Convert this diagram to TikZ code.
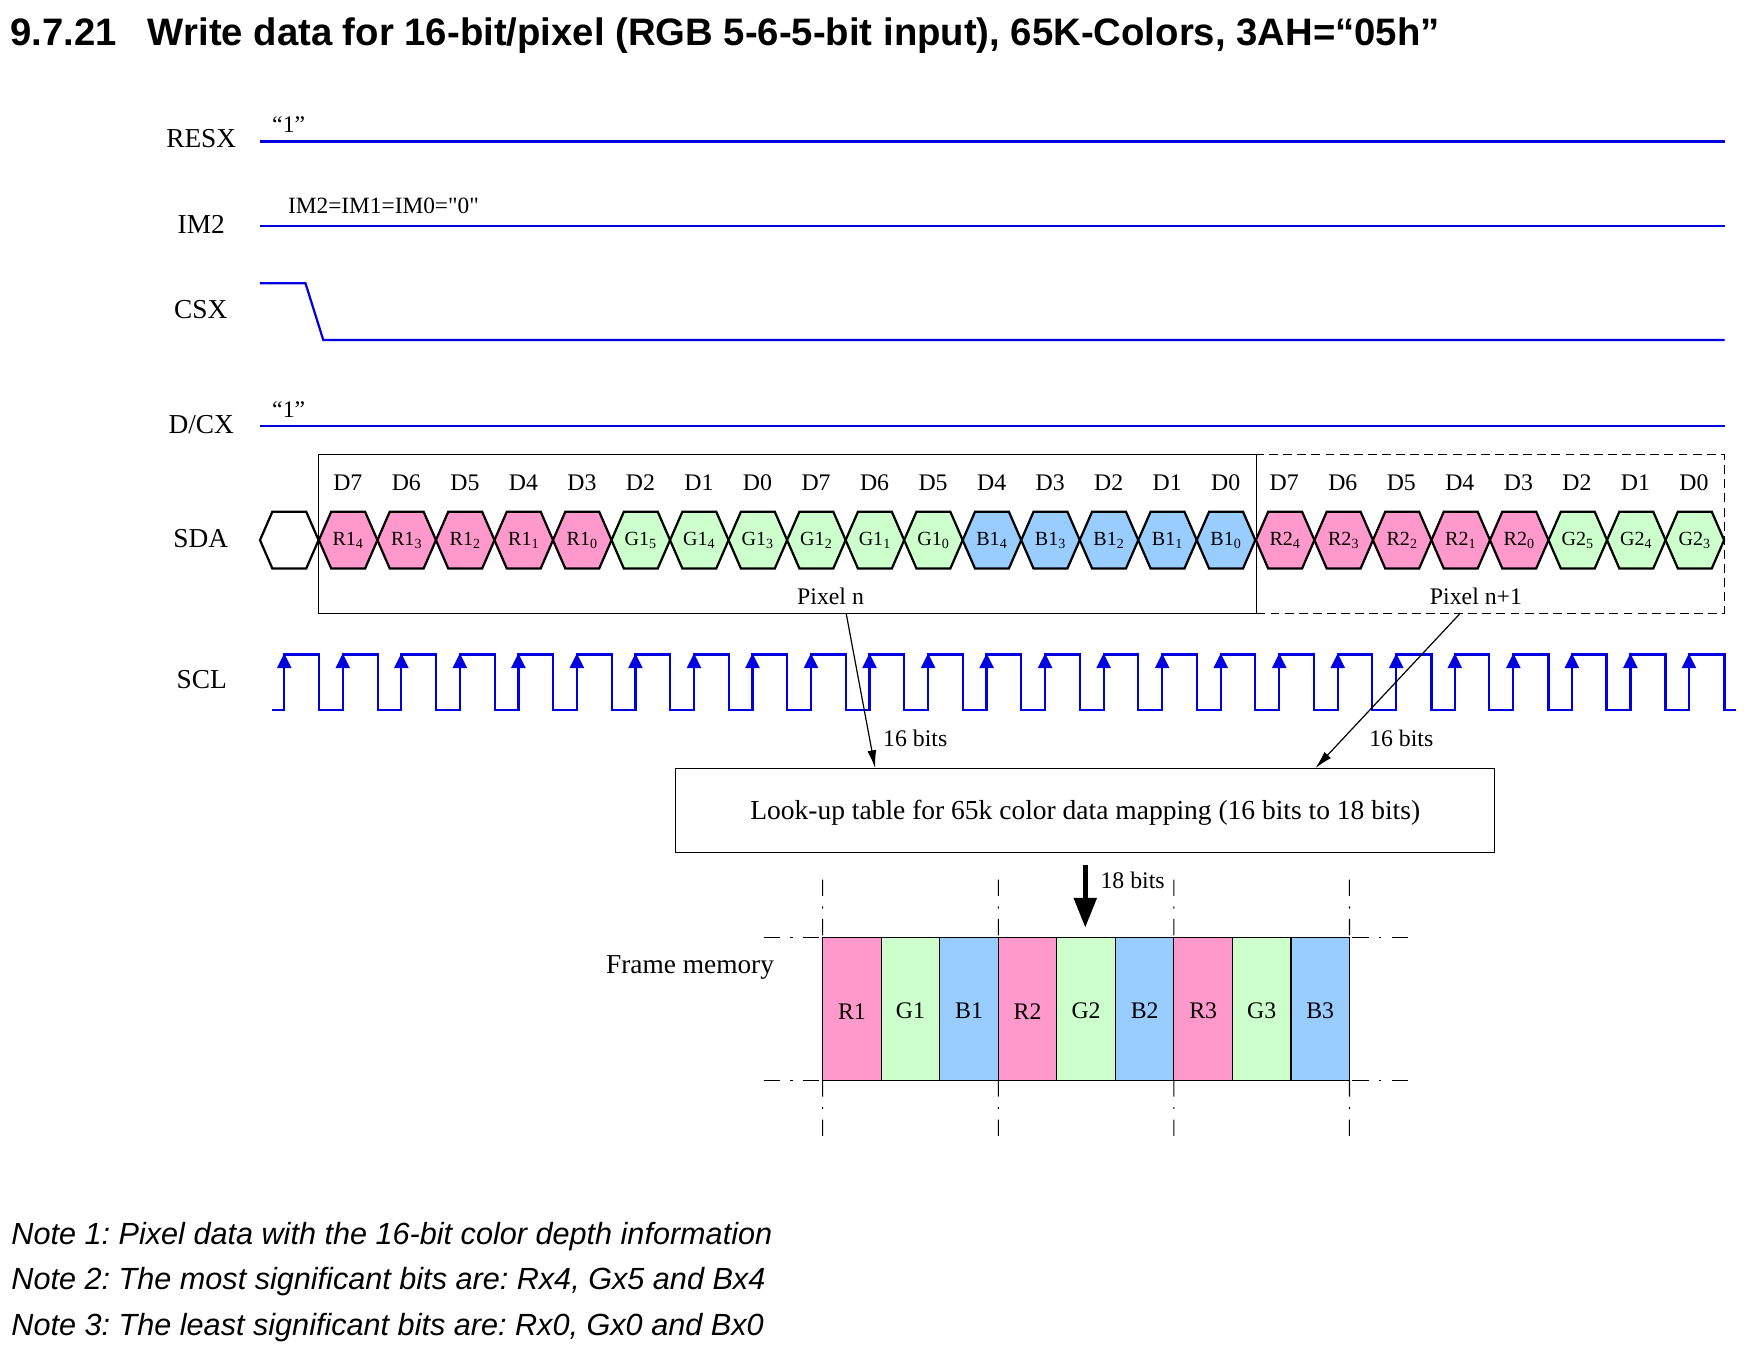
\documentclass[tikz,border=0pt]{standalone}
\usepackage{fontspec}
\usepackage{xcolor}
\usetikzlibrary{arrows.meta,shapes.symbols}
\setmainfont{Liberation Serif}
\newfontfamily\headfont{Liberation Sans}
\newfontfamily\rawserif{Liberation Serif}
\definecolor{wireblue}{HTML}{0000E0}
\definecolor{redcell}{HTML}{FF99CC}
\definecolor{greencell}{HTML}{CCFFCC}
\definecolor{bluecell}{HTML}{99CCFF}
\tikzset{
  wire/.style={draw=wireblue,line width=1.5pt},
  sclarrow/.style={wire,-{Triangle[length=10pt,width=9.5pt]}},
  hexcell/.style={signal,signal to=east and west,signal from=nowhere,signal pointer angle=133,
    draw=black,line width=1.5pt,minimum width=39.4pt,minimum height=38.2pt,inner sep=0pt,outer sep=0pt,font=\fontsize{13.5}{13.5}\selectfont},
  redhex/.style={hexcell,fill=redcell},
  greenhex/.style={hexcell,fill=greencell},
  bluehex/.style={hexcell,fill=bluecell},
  memcell/.style={draw=black,line width=0.8pt,minimum width=39.4pt,minimum height=96pt,inner sep=0pt,outer sep=0pt,text height=13.6pt,font=\fontsize{16}{16}\selectfont},
  sigtext/.style={inner sep=0pt,font=\fontsize{18.4}{18.4}\selectfont},
  smalltext/.style={inner sep=0pt,font=\fontsize{16}{16}\selectfont},
  bittext/.style={inner sep=0pt,font=\fontsize{16}{16}\selectfont},
  notetext/.style={anchor=west,inner sep=0pt,font=\headfont\itshape\fontsize{20.6}{20.6}\selectfont\frenchspacing},
  thinarrow/.style={line width=0.8pt,-{Latex[length=12pt,width=6pt]}},
  centerline/.style={line width=0.7pt,dash pattern=on 11pt off 7pt on 1.5pt off 7pt},
}
\begin{document}
\begin{tikzpicture}[x=0.75pt,y=0.75pt,yscale=-1,xscale=1]
	\useasboundingbox (0,0) rectangle (1568,1215);
	% Title
	\node (title) [anchor=west,inner sep=0pt,font=\headfont\bfseries\fontsize{25.76}{25.76}\selectfont\frenchspacing] at (9,32) {9.7.21\hspace{21pt}Write data for 16-bit/pixel (RGB 5-6-5-bit input), 65K-Colors, 3AH=“05h”};

	% Signal names
	\node (resxname) [sigtext] at (180.5,124.5) {RESX};
	\node (imname) [sigtext] at (180.5,201.5) {IM2};
	\node (csxname) [sigtext] at (180,278) {CSX};
	\node (dcxname) [sigtext] at (180.5,380.5) {D/CX};
	\node (sdaname) [sigtext] at (180,483.5) {SDA};
	\node (sclname) [sigtext] at (181,610) {SCL};

	% Level lines
	\coordinate (resxa) at (233,127);
	\coordinate (resxb) at (1547,127);
	\coordinate (ima) at (233,203);
	\coordinate (imb) at (1547,203);
	\coordinate (csxa) at (233,254);
	\coordinate (csxb) at (274,254);
	\coordinate (csxc) at (290,305);
	\coordinate (csxd) at (1547,305);
	\coordinate (dcxa) at (233,382);
	\coordinate (dcxb) at (1547,382);
	\draw [wire] (resxa) -- (resxb);
	\draw [wire] (ima) -- (imb);
	\draw [wire] (csxa) -- (csxb) -- (csxc) -- (csxd);
	\draw [wire] (dcxa) -- (dcxb);
	\node (resxlevel) [smalltext] at (259,112) {“1”};
	\node (imlevel) [smalltext,font=\fontsize{15.7}{15.7}\selectfont] at (344,185) {\rawserif IM2=IM1=IM0="0"};
	\node (dcxlevel) [smalltext] at (259,367) {“1”};

	% Pixel frames
	\node (pixelnext) [draw,line width=0.8pt,dash pattern=on 6pt off 3.5pt,minimum width=315pt,minimum height=106.5pt,inner sep=0pt,outer sep=0pt] at (1337,479) {};
	\node (pixelthis) [draw,line width=0.8pt,minimum width=630.75pt,minimum height=106.5pt,inner sep=0pt,outer sep=0pt] at (706.5,479) {};
	\node (pixelthistext) [smalltext] at (745,535) {Pixel n};
	\node (pixelnexttext) [smalltext] at (1324,535) {Pixel n+1};

	% Bit numbers
	\node (bita) [smalltext] at (312,433) {D7};
	\node (bitb) [smalltext] at (364.5,433) {D6};
	\node (bitc) [smalltext] at (417,433) {D5};
	\node (bitd) [smalltext] at (469.5,433) {D4};
	\node (bite) [smalltext] at (522,433) {D3};
	\node (bitf) [smalltext] at (574.5,433) {D2};
	\node (bitg) [smalltext] at (627,433) {D1};
	\node (bith) [smalltext] at (679.5,433) {D0};
	\node (biti) [smalltext] at (732,433) {D7};
	\node (bitj) [smalltext] at (784.5,433) {D6};
	\node (bitk) [smalltext] at (837,433) {D5};
	\node (bitl) [smalltext] at (889.5,433) {D4};
	\node (bitm) [smalltext] at (942,433) {D3};
	\node (bitn) [smalltext] at (994.5,433) {D2};
	\node (bito) [smalltext] at (1047,433) {D1};
	\node (bitp) [smalltext] at (1099.5,433) {D0};
	\node (bitq) [smalltext] at (1152,433) {D7};
	\node (bitr) [smalltext] at (1204.5,433) {D6};
	\node (bits) [smalltext] at (1257,433) {D5};
	\node (bitt) [smalltext] at (1309.5,433) {D4};
	\node (bitu) [smalltext] at (1362,433) {D3};
	\node (bitv) [smalltext] at (1414.5,433) {D2};
	\node (bitw) [smalltext] at (1467,433) {D1};
	\node (bitx) [smalltext] at (1519.5,433) {D0};

	% SDA cells
	\node (sdaidle) [hexcell] at (259.5,484.5) {};
	\node (hexa) [redhex] at (312.3,484.5) {R1\textsubscript{4}};
	\node (hexb) [redhex] at (364.8,484.5) {R1\textsubscript{3}};
	\node (hexc) [redhex] at (417.3,484.5) {R1\textsubscript{2}};
	\node (hexd) [redhex] at (469.8,484.5) {R1\textsubscript{1}};
	\node (hexe) [redhex] at (522.3,484.5) {R1\textsubscript{0}};
	\node (hexf) [greenhex] at (574.8,484.5) {G1\textsubscript{5}};
	\node (hexg) [greenhex] at (627.3,484.5) {G1\textsubscript{4}};
	\node (hexh) [greenhex] at (679.8,484.5) {G1\textsubscript{3}};
	\node (hexi) [greenhex] at (732.3,484.5) {G1\textsubscript{2}};
	\node (hexj) [greenhex] at (784.8,484.5) {G1\textsubscript{1}};
	\node (hexk) [greenhex] at (837.3,484.5) {G1\textsubscript{0}};
	\node (hexl) [bluehex] at (889.8,484.5) {B1\textsubscript{4}};
	\node (hexm) [bluehex] at (942.3,484.5) {B1\textsubscript{3}};
	\node (hexn) [bluehex] at (994.8,484.5) {B1\textsubscript{2}};
	\node (hexo) [bluehex] at (1047.3,484.5) {B1\textsubscript{1}};
	\node (hexp) [bluehex] at (1099.8,484.5) {B1\textsubscript{0}};
	\node (hexq) [redhex] at (1152.8,484.5) {R2\textsubscript{4}};
	\node (hexr) [redhex] at (1205.3,484.5) {R2\textsubscript{3}};
	\node (hexs) [redhex] at (1257.8,484.5) {R2\textsubscript{2}};
	\node (hext) [redhex] at (1310.3,484.5) {R2\textsubscript{1}};
	\node (hexu) [redhex] at (1362.8,484.5) {R2\textsubscript{0}};
	\node (hexv) [greenhex] at (1415.3,484.5) {G2\textsubscript{5}};
	\node (hexw) [greenhex] at (1467.8,484.5) {G2\textsubscript{4}};
	\node (hexx) [greenhex] at (1520.3,484.5) {G2\textsubscript{3}};

	% SCL
	\draw [wire] (244,637) -- (255,637) -- (255,587) -- (286,587) -- (286,637) -- (307.5,637) -- (307.5,587) -- (339,587) -- (339,637) -- (360,637) -- (360,587) -- (391,587) -- (391,637) -- (412.5,637) -- (412.5,587) -- (444,587) -- (444,637) -- (465,637) -- (465,587) -- (496,587) -- (496,637) -- (517.5,637) -- (517.5,587) -- (549,587) -- (549,637) -- (570,637) -- (570,587) -- (601,587) -- (601,637) -- (622.5,637) -- (622.5,587) -- (654,587) -- (654,637) -- (675,637) -- (675,587) -- (706,587) -- (706,637) -- (727.5,637) -- (727.5,587) -- (759,587) -- (759,637) -- (780,637) -- (780,587) -- (811,587) -- (811,637) -- (832.5,637) -- (832.5,587) -- (864,587) -- (864,637) -- (885,637) -- (885,587) -- (916,587) -- (916,637) -- (937.5,637) -- (937.5,587) -- (969,587) -- (969,637) -- (990,637) -- (990,587) -- (1021,587) -- (1021,637) -- (1042.5,637) -- (1042.5,587) -- (1074,587) -- (1074,637) -- (1095,637) -- (1095,587) -- (1126,587) -- (1126,637) -- (1147.5,637) -- (1147.5,587) -- (1179,587) -- (1179,637) -- (1200,637) -- (1200,587) -- (1231,587) -- (1231,637) -- (1252.5,637) -- (1252.5,587) -- (1284,587) -- (1284,637) -- (1305,637) -- (1305,587) -- (1336,587) -- (1336,637) -- (1357.5,637) -- (1357.5,587) -- (1389,587) -- (1389,637) -- (1410,637) -- (1410,587) -- (1441,587) -- (1441,637) -- (1462.5,637) -- (1462.5,587) -- (1494,587) -- (1494,637) -- (1515,637) -- (1515,587) -- (1547,587) -- (1547,637) -- (1557,637);
	\draw [sclarrow] (255,620) -- (255,586);
	\draw [sclarrow] (307.5,620) -- (307.5,586);
	\draw [sclarrow] (360,620) -- (360,586);
	\draw [sclarrow] (412.5,620) -- (412.5,586);
	\draw [sclarrow] (465,620) -- (465,586);
	\draw [sclarrow] (517.5,620) -- (517.5,586);
	\draw [sclarrow] (570,620) -- (570,586);
	\draw [sclarrow] (622.5,620) -- (622.5,586);
	\draw [sclarrow] (675,620) -- (675,586);
	\draw [sclarrow] (727.5,620) -- (727.5,586);
	\draw [sclarrow] (780,620) -- (780,586);
	\draw [sclarrow] (832.5,620) -- (832.5,586);
	\draw [sclarrow] (885,620) -- (885,586);
	\draw [sclarrow] (937.5,620) -- (937.5,586);
	\draw [sclarrow] (990,620) -- (990,586);
	\draw [sclarrow] (1042.5,620) -- (1042.5,586);
	\draw [sclarrow] (1095,620) -- (1095,586);
	\draw [sclarrow] (1147.5,620) -- (1147.5,586);
	\draw [sclarrow] (1200,620) -- (1200,586);
	\draw [sclarrow] (1252.5,620) -- (1252.5,586);
	\draw [sclarrow] (1305,620) -- (1305,586);
	\draw [sclarrow] (1357.5,620) -- (1357.5,586);
	\draw [sclarrow] (1410,620) -- (1410,586);
	\draw [sclarrow] (1462.5,620) -- (1462.5,586);
	\draw [sclarrow] (1515,620) -- (1515,586);

	% Look-up table
	\node (lut) [draw,line width=0.8pt,minimum width=551pt,minimum height=57pt,inner sep=0pt,outer sep=0pt,text depth=1pt,font=\fontsize{18.5}{18.5}\selectfont] at (973.5,727) {Look-up table for 65k color data mapping (16 bits to 18 bits)};
	\coordinate (pixelthisout) at (759,550);
	\coordinate (lutina) at (785,689);
	\coordinate (pixelnextout) at (1310,550);
	\coordinate (lutinb) at (1180,689);
	\draw [thinarrow] (pixelthisout) -- (lutina);
	\draw [thinarrow] (pixelnextout) -- (lutinb);
	\node (bitsa) [bittext] at (821,662) {16 bits};
	\node (bitsb) [bittext] at (1257,662) {16 bits};

	% Frame memory
	\node (framename) [sigtext] at (619,868) {Frame memory};
	\node (memr) [memcell,fill=redcell] at (764.25,905) {R1};
	\node (memg) [memcell,fill=greencell] at (816.75,905) {G1};
	\node (memb) [memcell,fill=bluecell] at (869.25,905) {B1};
	\node (memrr) [memcell,fill=redcell] at (921.75,905) {R2};
	\node (memgg) [memcell,fill=greencell] at (974.25,905) {G2};
	\node (membb) [memcell,fill=bluecell] at (1026.75,905) {B2};
	\node (memrrr) [memcell,fill=redcell] at (1079.25,905) {R3};
	\node (memggg) [memcell,fill=greencell] at (1131.75,905) {G3};
	\node (membbb) [memcell,fill=bluecell] at (1184.25,905) {B3};
	\coordinate (lutout) at (973.5,776);
	\coordinate (memin) at (973.5,832);
	\draw [line width=3.2pt,-{Triangle[length=20pt,width=15pt]}] (lutout) -- (memin);
	\node (bitsc) [bittext] at (1016,790) {18 bits};

	% Centre lines
	\coordinate (topleft) at (685,841);
	\coordinate (topright) at (1263,841);
	\coordinate (lowleft) at (685,969);
	\coordinate (lowright) at (1263,969);
	\coordinate (upa) at (738,789);
	\coordinate (upb) at (895.5,789);
	\coordinate (upc) at (1053,789);
	\coordinate (upd) at (1210.5,789);
	\coordinate (downa) at (738,1020);
	\coordinate (downb) at (895.5,1020);
	\coordinate (downc) at (1053,1020);
	\coordinate (downd) at (1210.5,1020);
	\draw [centerline] (topleft) -- (memr.north west);
	\draw [centerline] (topright) -- (membbb.north east);
	\draw [centerline] (lowleft) -- (memr.south west);
	\draw [centerline] (lowright) -- (membbb.south east);
	\draw [centerline] (upa) -- (memr.north west);
	\draw [centerline] (upb) -- (memrr.north west);
	\draw [centerline] (upc) -- (memrrr.north west);
	\draw [centerline] (upd) -- (membbb.north east);
	\draw [centerline] (memr.south west) -- (downa);
	\draw [centerline] (memrr.south west) -- (downb);
	\draw [centerline] (memrrr.south west) -- (downc);
	\draw [centerline] (membbb.south east) -- (downd);

	% Notes
	\node (notea) [notetext] at (10,1109) {Note 1: Pixel data with the 16-bit color depth information};
	\node (noteb) [notetext] at (10,1150) {Note 2: The most significant bits are: Rx4, Gx5 and Bx4};
	\node (notec) [notetext] at (10,1191) {Note 3: The least significant bits are: Rx0, Gx0 and Bx0};
\end{tikzpicture}
\end{document}
